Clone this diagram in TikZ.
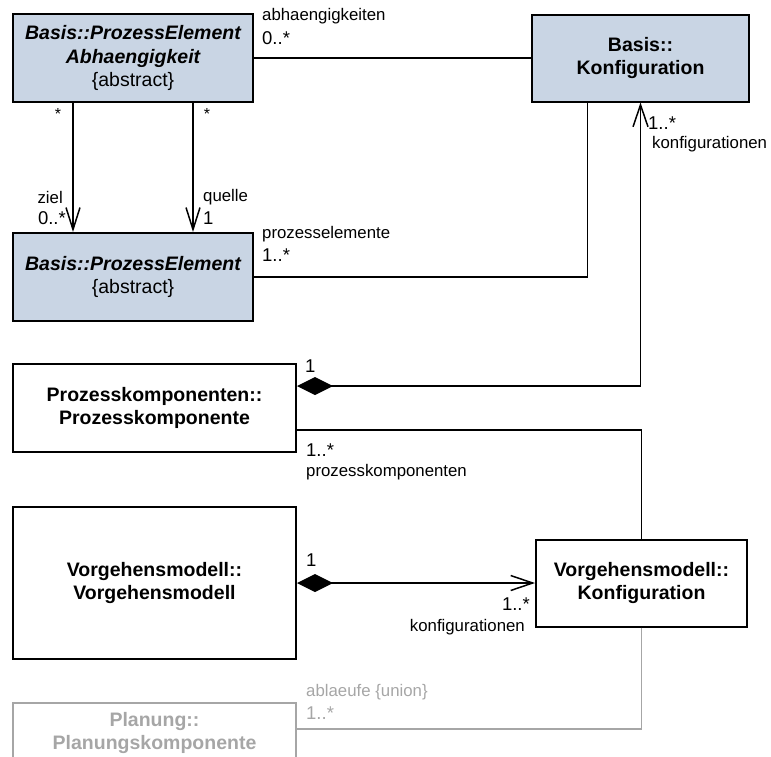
\documentclass[tikz,border=0pt]{standalone}
\usepackage{fontspec}
\setmainfont{Liberation Sans}
\usetikzlibrary{arrows.meta}
\definecolor{boxblue}{RGB}{201,213,228}
\definecolor{ghost}{RGB}{166,166,166}
\begin{document}
\begin{tikzpicture}[x=1pt,y=-1pt,
  cls/.style={draw, line width=2pt, align=center, inner sep=0pt,
    font=\bfseries\fontsize{19.5}{23.5}\selectfont},
  abs/.style={cls, fill=boxblue},
  assoc/.style={line width=1.5pt},
  open/.style={-{Straight Barb[length=22pt,width=14pt]}},
  compnav/.style={{Diamond[length=36pt,width=18pt]}-{Straight Barb[length=22pt,width=15pt]}},
  role/.style={inner sep=0pt, font=\fontsize{16.8}{19}\selectfont},
  mult/.style={inner sep=0pt, font=\fontsize{18.5}{21}\selectfont},
  star/.style={inner sep=0pt, font=\fontsize{16}{18}\selectfont}]
\useasboundingbox (0,0) rectangle (771,756);

% classes
\node[abs, minimum width=240pt, minimum height=88pt] (a1) at (133,58)
  {\itshape Basis::ProzessElement\\ \itshape Abhaengigkeit\\ \mdseries\upshape\{abstract\}};
\node[abs, minimum width=217pt, minimum height=87pt] (k2) at (640.5,58)
  {Basis::\\Konfiguration};
\node[abs, minimum width=240pt, minimum height=88pt] (pe) at (133,277)
  {\itshape Basis::ProzessElement\\ \mdseries\upshape\{abstract\}};
\node[cls, minimum width=283pt, minimum height=88pt] (pk) at (154.5,408)
  {Prozesskomponenten::\\Prozesskomponente};
\node[cls, minimum width=283pt, minimum height=152pt] (vm) at (154.5,583)
  {Vorgehensmodell::\\Vorgehensmodell};
\node[cls, minimum width=211pt, minimum height=87pt] (vk) at (641.5,583)
  {Vorgehensmodell::\\Konfiguration};
\node[cls, draw=ghost, text=ghost, minimum width=283pt, minimum height=60pt] (pl) at (154.5,733)
  {Planung::\\Planungskomponente};

% connectors
\draw[assoc] (a1.east) -- (k2.west);
\draw[assoc, open] ([xshift=-60pt]a1.south) -- ([xshift=-60pt]pe.north);
\draw[assoc, open] ([xshift=60pt]a1.south) -- ([xshift=60pt]pe.north);
\draw[assoc] (pe.east) -| ([xshift=-53pt]k2.south);
\draw[assoc, compnav] ([yshift=22pt]pk.east) -| (k2.south);
\draw[assoc] ([yshift=-22pt]pk.east) -| (vk.north);
\draw[assoc, compnav] (vm.east) -- (vk.west);
\draw[assoc, ghost] (vk.south) |- ([yshift=4pt]pl.east);

% labels
\node[role, anchor=west] (l1) at (262,16) {abhaengigkeiten};
\node[mult, anchor=west] (l2) at (262,38) {0..*};
\node[star] (l3) at (58,114) {*};
\node[star] (l4) at (207,114) {*};
\node[role, anchor=east] (l5) at (63,197) {ziel};
\node[mult, anchor=east] (l6) at (66,218) {0..*};
\node[role, anchor=west] (l7) at (203,197) {quelle};
\node[mult, anchor=west] (l8) at (203,218) {1};
\node[role, anchor=west] (l9) at (262,234) {prozesselemente};
\node[mult, anchor=west] (l10) at (262,255) {1..*};
\node[mult, anchor=west] (l11) at (648,123) {1..*};
\node[role, anchor=west] (l12) at (652,144) {konfigurationen};
\node[mult, anchor=west] (l13) at (305,366) {1};
\node[mult, anchor=west] (l14) at (306,450) {1..*};
\node[role, anchor=west] (l15) at (306,472) {prozesskomponenten};
\node[mult, anchor=west] (l16) at (306,560) {1};
\node[mult, anchor=east] (l17) at (530,604) {1..*};
\node[role, anchor=east] (l18) at (525,627) {konfigurationen};
\node[role, anchor=west, text=ghost] (l19) at (306,692) {ablaeufe \{union\}};
\node[mult, anchor=west, text=ghost] (l20) at (306,713) {1..*};
\end{tikzpicture}
\end{document}
